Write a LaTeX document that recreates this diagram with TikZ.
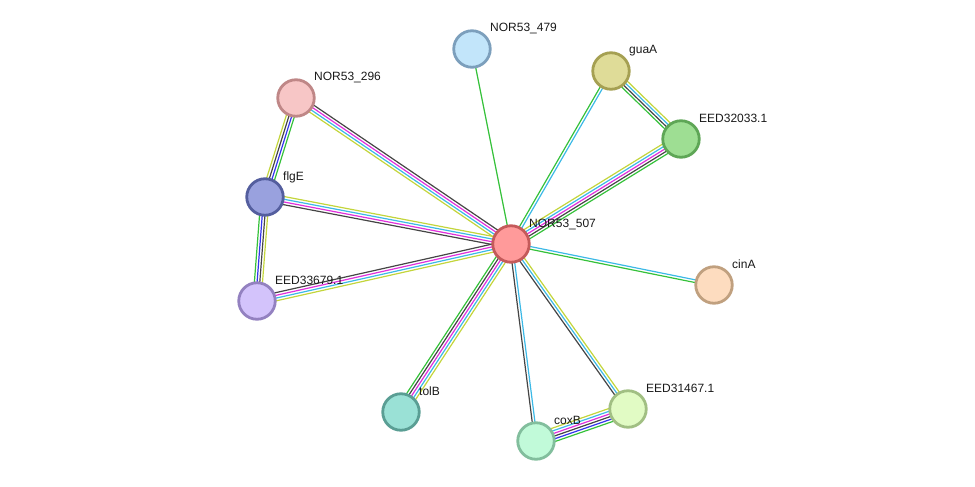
\documentclass[tikz,border=0pt]{standalone}
\usepackage{fontspec}
\setmainfont{Liberation Sans}
\usepackage{xcolor}
\usepackage{tikz}
\usetikzlibrary{calc,backgrounds}

\definecolor{lyel}{HTML}{C3D53B}
\definecolor{lcya}{HTML}{3CB9E6}
\definecolor{lmag}{HTML}{E030DC}
\definecolor{lblk}{HTML}{454545}
\definecolor{lgrn}{HTML}{35C13A}
\definecolor{lblu}{HTML}{3434EC}

% parallel evidence lines between two proteins
\newcommand{\strlink}[4]{%
  \foreach \lcol [count=\li] in {#4}{
    \pgfmathsetmacro{\loff}{((#3+1)/2-\li)*2.7}
    \draw[\lcol, line width=1.2pt] ($(#1.center)!\loff pt!90:(#2.center)$) -- ($(#2.center)!\loff pt!-90:(#1.center)$);
  }%
}

\begin{document}
\begin{tikzpicture}[x=1pt,y=-1pt,
  prot/.style={circle,line width=2.8pt,minimum size=36.5pt,inner sep=0pt},
  lbl/.style={font=\fontsize{12}{14}\selectfont,text=black!90,inner sep=0pt}]
  \useasboundingbox (0,0) rectangle (975,487);
  \foreach \nm/\x/\y/\fc/\bc/\txt in {
      c507/511/244/FF9A9A/C45A5A/NOR53\_507,
      n479/472/49/C2E5FA/7C9FBC/NOR53\_479,
      guaA/611/71/DFDC98/A5A052/guaA,
      e32033/681/139/9EDE93/5EA656/EED32033.1,
      n296/296/98/F7C6C6/BF8787/NOR53\_296,
      flgE/265/197/99A1DE/545E9E/flgE,
      e33679/257/301/D3C3FB/9381C0/EED33679.1,
      cinA/714/285/FDDCBF/C0A07F/cinA,
      e31467/628/409/E1FBC4/A1BF83/EED31467.1,
      coxB/536/441/C1FAD9/82BE9D/coxB,
      tolB/401/412/9AE1D6/5A9E94/tolB}{
    \definecolor{f\nm}{HTML}{\fc}
    \definecolor{b\nm}{HTML}{\bc}
    \node[prot,fill=f\nm,draw=b\nm] (\nm) at (\x,\y) {};
    \node[lbl,anchor=base west] (\nm-l) at ($(\nm)+(18,-17)$) {\txt};
  }
  \begin{scope}[on background layer]
    \strlink{c507}{n479}{1}{lgrn}
    \strlink{c507}{guaA}{2}{lgrn,lcya}
    \strlink{c507}{e32033}{5}{lyel,lcya,lmag,lblk,lgrn}
    \strlink{guaA}{e32033}{4}{lyel,lcya,lblk,lgrn}
    \strlink{c507}{cinA}{2}{lcya,lgrn}
    \strlink{c507}{e31467}{3}{lyel,lcya,lblk}
    \strlink{c507}{coxB}{2}{lcya,lblk}
    \strlink{coxB}{e31467}{6}{lyel,lcya,lmag,lblk,lblu,lgrn}
    \strlink{c507}{tolB}{5}{lyel,lcya,lmag,lblk,lgrn}
    \strlink{c507}{e33679}{4}{lyel,lcya,lmag,lblk}
    \strlink{c507}{flgE}{4}{lblk,lmag,lcya,lyel}
    \strlink{c507}{n296}{4}{lyel,lcya,lmag,lblk}
    \strlink{n296}{flgE}{4}{lgrn,lblu,lblk,lyel}
    \strlink{flgE}{e33679}{4}{lyel,lblk,lblu,lgrn}
  \end{scope}
\end{tikzpicture}
\end{document}
